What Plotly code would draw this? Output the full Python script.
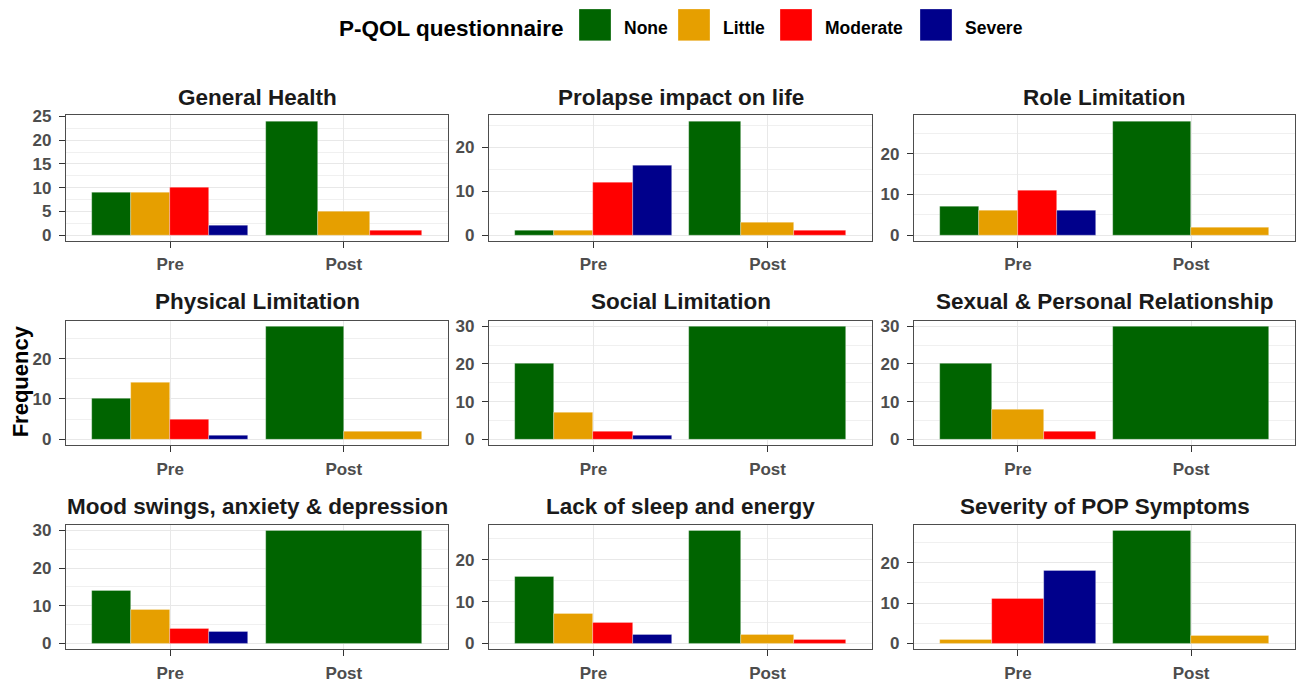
import plotly.graph_objects as go

# ---------------- data ----------------
facets = ["General Health", "Prolapse impact on life", "Role Limitation",
          "Physical Limitation", "Social Limitation", "Sexual & Personal Relationship",
          "Mood swings, anxiety & depression", "Lack of sleep and energy", "Severity of POP Symptoms"]
categories = ["None", "Little", "Moderate", "Severe"]
times = ["Pre", "Post"]

none_pre = [9, 1, 7, 10, 20, 20, 14, 16, 0]
little_pre = [9, 1, 6, 14, 7, 8, 9, 7, 1]
moderate_pre = [10, 12, 11, 5, 2, 2, 4, 5, 11]
severe_pre = [2, 16, 6, 1, 1, 0, 3, 2, 18]

none_post = [24, 26, 28, 28, 30, 30, 30, 27, 28]
little_post = [5, 3, 2, 2, 0, 0, 0, 2, 2]
moderate_post = [1, 1, 0, 0, 0, 0, 0, 1, 0]
severe_post = [0, 0, 0, 0, 0, 0, 0, 0, 0]

legend_title = "P-QOL questionnaire"
y_title = "Frequency"

# ---------------- styling ----------------
colors = {"None": "#006400", "Little": "#E69F00", "Moderate": "#FF0000", "Severe": "#00008B"}
FONT = "Liberation Sans, Arial, sans-serif"
W, H = 1299, 683
col_px = [(66, 448), (489, 872), (914, 1295)]
row_px = [(116, 242), (322, 447), (527, 652)]
title_y_px = [98, 303, 509]


def py(y):
    """target pixel row (from top) -> paper fraction, compensating the capture's vertical mapping"""
    return 1 - ((y - 8.04) / 0.9823) / H


values = {
    ("None", "Pre"): none_pre, ("Little", "Pre"): little_pre,
    ("Moderate", "Pre"): moderate_pre, ("Severe", "Pre"): severe_pre,
    ("None", "Post"): none_post, ("Little", "Post"): little_post,
    ("Moderate", "Post"): moderate_post, ("Severe", "Post"): severe_post,
}

fig = go.Figure()
annotations = []
shapes = []
DODGE = 0.9

for k, title in enumerate(facets):
    r, c = divmod(k, 3)
    sfx = "" if k == 0 else str(k + 1)
    # ggplot-like dodge: only present categories share the group width
    xs = {cat: [] for cat in categories}
    ys = {cat: [] for cat in categories}
    ws = {cat: [] for cat in categories}
    for g, t in enumerate(times):
        present = [cat for cat in categories if values[(cat, t)][k] > 0]
        n = len(present)
        if n == 0:
            continue
        w = DODGE / n
        for i, cat in enumerate(present):
            xs[cat].append((g + 1) - DODGE / 2 + (i + 0.5) * w)
            ys[cat].append(values[(cat, t)][k])
            ws[cat].append(w)
    for cat in categories:
        if not xs[cat]:
            continue
        fig.add_trace(go.Bar(
            x=xs[cat], y=ys[cat], width=ws[cat], name=cat,
            marker=dict(color=colors[cat], line=dict(color="rgba(255,255,255,0.5)", width=0.6)),
            xaxis="x" + sfx, yaxis="y" + sfx, showlegend=False,
        ))

    ymax = max(values[(cat, t)][k] for cat in categories for t in times)
    dt = 5 if ymax <= 25 else 10
    x0, x1 = col_px[c]
    y0, y1 = row_px[r]
    axfont = dict(family=FONT, size=17, color="#4D4D4D", weight="bold")
    common = dict(
        showgrid=True, gridcolor="#E8E8E8", gridwidth=1, zeroline=False,
        showline=True, linecolor="#4D4D4D", linewidth=1.3, mirror=True,
        ticks="outside", ticklen=6, tickcolor="#333333", tickwidth=1.2,
        tickfont=axfont, fixedrange=True,
    )
    fig.layout["xaxis" + sfx] = dict(
        domain=[x0 / W, x1 / W], anchor="y" + sfx, range=[0.4, 2.6],
        tickmode="array", tickvals=[1, 2], ticktext=times,
        ticklabelstandoff=2, **common,
    )
    fig.layout["yaxis" + sfx] = dict(
        domain=[py(y1), py(y0)], anchor="x" + sfx,
        range=[-0.05 * ymax, 1.05 * ymax],
        tickmode="linear", tick0=0, dtick=dt,
        minor=dict(tick0=0, dtick=dt / 2, showgrid=True, gridcolor="#F0F0F0", gridwidth=1),
        ticklabelstandoff=4, **common,
    )
    annotations.append(dict(
        text=title, xref="paper", yref="paper", x=(x0 + x1) / 2 / W, y=py(title_y_px[r]),
        xanchor="center", yanchor="middle", showarrow=False,
        font=dict(family=FONT, size=22.5, color="#1A1A1A", weight="bold"),
    ))

# y-axis title
annotations.append(dict(
    text=y_title, xref="paper", yref="paper", x=20 / W, y=py(383),
    xanchor="center", yanchor="middle", textangle=-90, showarrow=False,
    font=dict(family=FONT, size=22, color="#000000", weight="bold"),
))

# custom legend (ggplot-style large keys)
annotations.append(dict(
    text=legend_title, xref="paper", yref="paper", x=566 / W, y=py(29),
    xanchor="right", yanchor="middle", showarrow=False,
    font=dict(family=FONT, size=22.5, color="#000000", weight="bold"),
))
key_left_px = [579, 678, 780, 920]
for cat, kx in zip(categories, key_left_px):
    shapes.append(dict(
        type="rect", xref="paper", yref="paper",
        x0=kx / W, x1=(kx + 32) / W, y0=py(41), y1=py(9),
        fillcolor=colors[cat], line=dict(color="rgba(255,255,255,0.5)", width=0.6),
    ))
    annotations.append(dict(
        text=cat, xref="paper", yref="paper", x=(kx + 43) / W, y=py(28),
        xanchor="left", yanchor="middle", showarrow=False,
        font=dict(family=FONT, size=17.5, color="#000000", weight="bold"),
    ))

fig.update_layout(
    width=W, height=H, margin=dict(l=0, r=0, t=0, b=0),
    paper_bgcolor="white", plot_bgcolor="white",
    barmode="overlay", bargap=0,
    annotations=annotations, shapes=shapes,
    showlegend=False,
)

post = ("var h=document.documentElement,b=document.body;"
        "h.style.margin='0';h.style.padding='0';h.style.overflow='hidden';h.style.height='683px';"
        "b.style.margin='0';b.style.padding='0';b.style.overflow='hidden';b.style.height='683px';"
        "var d=document.getElementById('{plot_id}');"
        "d.style.position='fixed';d.style.left='0px';d.style.top='0px';d.style.margin='0';")
fig.write_html("out.html", config={"displayModeBar": False}, post_script=post)
